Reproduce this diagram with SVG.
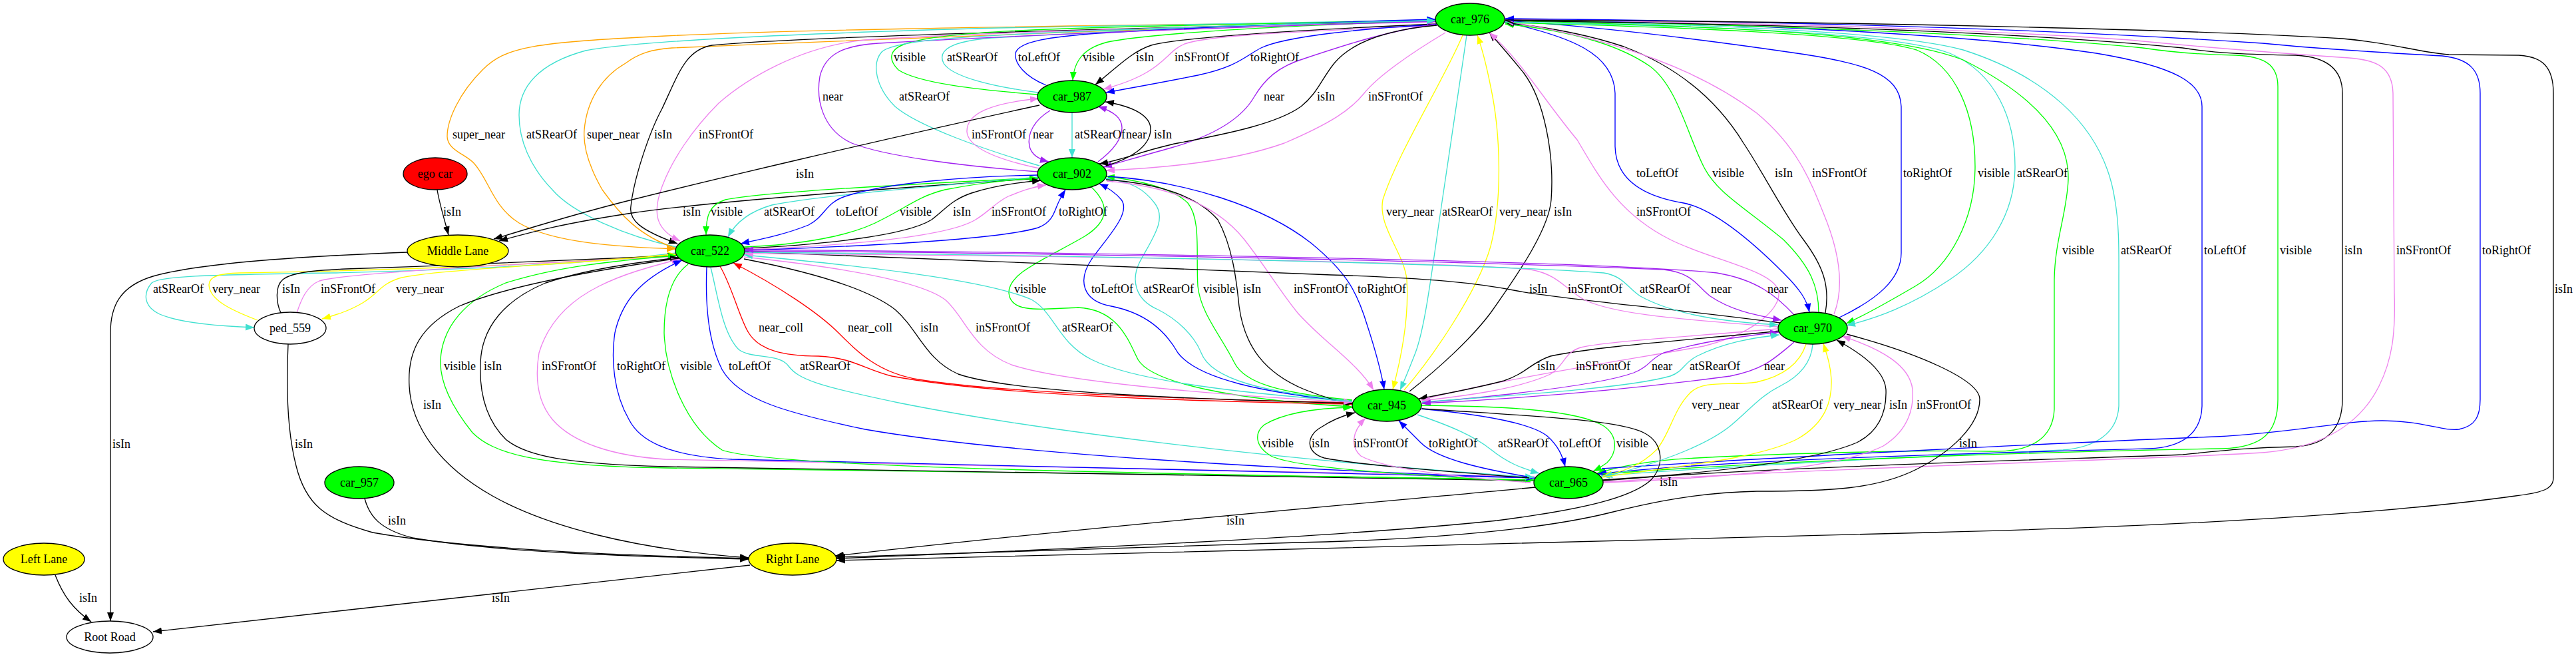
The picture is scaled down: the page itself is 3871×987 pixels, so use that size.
<svg xmlns="http://www.w3.org/2000/svg" width="3871" height="987" viewBox="0 0 3871 987">
<style>
.e{fill:none;stroke-width:1.33}
.k{stroke:#000;marker-end:url(#mk)}
.r{stroke:#f00;marker-end:url(#mr)}
.g{stroke:#0f0;marker-end:url(#mg)}
.b{stroke:#00f;marker-end:url(#mb)}
.t{stroke:#40e0d0;marker-end:url(#mt)}
.v{stroke:#ee82ee;marker-end:url(#mv)}
.p{stroke:#a020f0;marker-end:url(#mp)}
.y{stroke:#ff0;marker-end:url(#my)}
.o{stroke:#ffa500;marker-end:url(#mo)}
text{font-family:"Liberation Serif","Times New Roman",serif;font-size:18px;fill:#000}
.n{stroke:#000;stroke-width:1.33}
.nt{text-anchor:middle}
</style>
<defs>
<marker id="mk" viewBox="0 0 13 10" refX="13" refY="5" markerWidth="13" markerHeight="10" orient="auto" markerUnits="userSpaceOnUse"><path d="M0,0L13,5L0,10z" fill="#000"/></marker>
<marker id="mr" viewBox="0 0 13 10" refX="13" refY="5" markerWidth="13" markerHeight="10" orient="auto" markerUnits="userSpaceOnUse"><path d="M0,0L13,5L0,10z" fill="#f00"/></marker>
<marker id="mg" viewBox="0 0 13 10" refX="13" refY="5" markerWidth="13" markerHeight="10" orient="auto" markerUnits="userSpaceOnUse"><path d="M0,0L13,5L0,10z" fill="#0f0"/></marker>
<marker id="mb" viewBox="0 0 13 10" refX="13" refY="5" markerWidth="13" markerHeight="10" orient="auto" markerUnits="userSpaceOnUse"><path d="M0,0L13,5L0,10z" fill="#00f"/></marker>
<marker id="mt" viewBox="0 0 13 10" refX="13" refY="5" markerWidth="13" markerHeight="10" orient="auto" markerUnits="userSpaceOnUse"><path d="M0,0L13,5L0,10z" fill="#40e0d0"/></marker>
<marker id="mv" viewBox="0 0 13 10" refX="13" refY="5" markerWidth="13" markerHeight="10" orient="auto" markerUnits="userSpaceOnUse"><path d="M0,0L13,5L0,10z" fill="#ee82ee"/></marker>
<marker id="mp" viewBox="0 0 13 10" refX="13" refY="5" markerWidth="13" markerHeight="10" orient="auto" markerUnits="userSpaceOnUse"><path d="M0,0L13,5L0,10z" fill="#a020f0"/></marker>
<marker id="my" viewBox="0 0 13 10" refX="13" refY="5" markerWidth="13" markerHeight="10" orient="auto" markerUnits="userSpaceOnUse"><path d="M0,0L13,5L0,10z" fill="#ff0"/></marker>
<marker id="mo" viewBox="0 0 13 10" refX="13" refY="5" markerWidth="13" markerHeight="10" orient="auto" markerUnits="userSpaceOnUse"><path d="M0,0L13,5L0,10z" fill="#ffa500"/></marker>
</defs>
<rect width="3871" height="987" fill="#fff"/>
<g id="edges">
<path class="e o" d="M2157,31 C1800,38 1300,40 1000,54 C800,64 760,70 725,105 C690,140 672,180 672,205 C672,225 700,232 712,245 C735,270 740,310 780,335 C830,365 930,371 1015,374"/>
<path class="e t" d="M1016,371 C940,355 860,320 830,285 C796,250 780,210 780,173 C780,130 810,95 880,76 C950,62 1200,50 1500,42 C1800,36 2000,33 2157,30"/>
<path class="e o" d="M1016,373 C960,355 930,320 905,285 C885,250 876,220 878,195 C882,150 905,115 940,95 C960,80 980,74 1010,72 C1300,60 1800,40 2157,31"/>
<path class="e k" d="M2157,32 C1700,42 1200,55 1070,68 C1030,75 1020,110 995,163 C975,200 952,270 948,310 C945,330 960,345 1018,366"/>
<path class="e v" d="M2157,33 C1800,40 1450,50 1300,60 C1200,70 1120,120 1080,155 C1040,195 1010,240 995,280 C980,320 985,345 1022,362"/>
<path class="e k" d="M657,285 C660,305 668,330 674,353"/>
<path class="e t" d="M1016,380 C900,395 700,405 500,410 C300,413 240,415 228,425 C215,440 215,460 240,472 C270,485 330,490 382,492"/>
<path class="e y" d="M387,481 C345,465 315,450 314,428 C314,415 330,411 360,410 C500,408 800,400 1016,382"/>
<path class="e k" d="M422,470 C415,455 413,430 425,420 C440,408 480,406 520,404 C700,398 900,390 1016,384"/>
<path class="e v" d="M446,470 C452,452 460,430 480,422 C510,412 700,400 1016,385"/>
<path class="e y" d="M1016,382 C850,398 650,405 600,418 C570,428 570,440 545,455 C525,467 505,473 484,479"/>
<path class="e g" d="M1559,142 C1470,135 1380,125 1350,105 C1335,90 1335,75 1360,66 C1400,52 1500,45 1700,40 C1900,35 2050,32 2157,30"/>
<path class="e t" d="M1560,139 C1490,130 1430,115 1418,95 C1408,75 1430,62 1490,57 C1700,45 1950,35 2157,30"/>
<path class="e b" d="M1572,128 C1540,115 1524,95 1526,80 C1530,62 1580,55 1650,50 C1850,38 2000,33 2157,29"/>
<path class="e g" d="M2157,31 C1950,38 1750,48 1670,62 C1630,70 1614,90 1612,121"/>
<path class="e k" d="M2158,36 C1950,45 1780,55 1730,68 C1700,78 1680,100 1646,127"/>
<path class="e v" d="M2159,38 C1950,48 1820,52 1780,66 C1750,78 1750,110 1658,134"/>
<path class="e b" d="M2159,37 C2050,42 1930,55 1895,72 C1870,85 1860,100 1800,113 C1740,125 1700,132 1662,139"/>
<path class="e p" d="M1560,258 C1450,250 1330,235 1280,215 C1236,195 1226,150 1232,115 C1240,80 1270,68 1320,65 C1500,55 1800,42 2157,32"/>
<path class="e t" d="M1562,249 C1480,225 1380,190 1345,160 C1315,130 1310,95 1325,78 C1345,60 1450,55 1600,48 C1800,40 2000,34 2157,31"/>
<path class="e p" d="M2157,36 C2080,48 2020,68 1960,88 C1920,100 1900,120 1885,145 C1865,180 1820,205 1760,222 C1720,233 1690,242 1658,251"/>
<path class="e k" d="M2159,38 C2080,45 2030,65 2005,95 C1985,120 1980,140 1955,160 C1920,185 1850,200 1770,215 C1720,225 1690,240 1652,246"/>
<path class="e v" d="M2172,49 C2120,80 2070,115 2050,140 C2030,165 2000,185 1930,215 C1860,240 1760,252 1662,256"/>
<path class="e v" d="M1562,253 C1500,240 1455,222 1453,198 C1452,170 1490,155 1561,148"/>
<path class="e p" d="M1578,166 C1555,180 1543,200 1547,220 C1550,232 1560,239 1576,243"/>
<path class="e t" d="M1611,169 L1611,237"/>
<path class="e p" d="M1650,243 C1670,228 1686,210 1686,192 C1686,178 1675,168 1650,160"/>
<path class="e k" d="M1662,249 C1700,238 1728,220 1729,195 C1730,175 1705,160 1661,153"/>
<path class="e k" d="M1562,158 C1300,215 1050,275 950,300 C850,325 790,345 742,359"/>
<path class="e k" d="M1560,268 C1300,285 1050,305 950,320 C850,335 800,348 750,362"/>
<path class="e g" d="M1560,267 C1350,278 1150,288 1090,300 C1065,308 1061,325 1061,353"/>
<path class="e t" d="M1560,266 C1400,280 1220,295 1160,308 C1125,318 1105,335 1094,356"/>
<path class="e b" d="M1559,263 C1450,265 1330,275 1270,295 C1240,305 1240,325 1215,338 C1180,352 1150,358 1113,366"/>
<path class="e g" d="M1118,371 C1200,368 1280,355 1325,330 C1365,310 1380,295 1420,285 C1470,275 1510,270 1560,268"/>
<path class="e k" d="M1118,373 C1230,368 1360,355 1400,330 C1420,315 1430,300 1460,290 C1490,280 1520,275 1564,271"/>
<path class="e v" d="M1118,375 C1250,370 1420,358 1466,330 C1486,318 1495,305 1515,295 C1535,287 1550,281 1572,278"/>
<path class="e b" d="M1118,376 C1300,370 1500,360 1560,342 C1580,335 1584,320 1588,310 C1592,300 1596,293 1601,285"/>
<path class="e g" d="M1640,281 C1665,305 1670,330 1630,355 C1570,390 1515,410 1516,440 C1518,470 1560,465 1620,462 C1680,465 1695,510 1710,540 C1730,575 1850,600 2031,611"/>
<path class="e b" d="M2032,604 C1900,590 1800,570 1770,530 C1750,495 1720,470 1670,460 C1625,452 1620,420 1640,390 C1665,355 1700,320 1685,300 C1675,288 1665,282 1652,276"/>
<path class="e t" d="M2032,602 C1900,590 1820,570 1805,530 C1795,505 1770,480 1740,465 C1705,450 1700,420 1712,395 C1730,360 1755,330 1735,305 C1720,285 1700,272 1660,268"/>
<path class="e g" d="M2032,601 C1920,590 1870,575 1855,545 C1835,505 1804,470 1800,430 C1797,380 1805,330 1785,305 C1765,285 1720,272 1662,265"/>
<path class="e k" d="M1662,270 C1740,275 1800,295 1830,330 C1852,370 1858,420 1862,460 C1870,520 1900,560 1960,585 C1990,597 2010,603 2033,607"/>
<path class="e v" d="M1663,272 C1760,280 1830,310 1870,360 C1905,405 1925,440 1950,470 C1990,515 2040,545 2064,586"/>
<path class="e b" d="M1665,265 C1780,272 1900,310 1970,365 C2025,410 2040,440 2055,490 C2068,530 2075,555 2080,585"/>
<path class="e r" d="M1082,400 C1100,430 1112,480 1125,500 C1140,525 1175,535 1230,535 C1280,537 1300,555 1340,565 C1500,595 1800,603 2032,607"/>
<path class="e r" d="M2032,605 C1800,600 1500,590 1380,570 C1320,560 1290,530 1260,500 C1230,470 1170,430 1102,395"/>
<path class="e k" d="M1118,389 C1200,405 1300,430 1345,465 C1380,495 1390,540 1440,562 C1520,590 1800,600 2032,606"/>
<path class="e v" d="M1118,386 C1250,400 1380,420 1420,450 C1450,475 1460,525 1520,548 C1600,575 1850,595 2032,604"/>
<path class="e t" d="M2032,603 C1850,590 1700,570 1640,540 C1590,515 1585,470 1550,450 C1480,420 1300,400 1118,383"/>
<path class="e b" d="M2261,33 C2360,55 2425,80 2427,140 L2427,220 C2428,270 2470,295 2530,305 C2580,315 2640,370 2680,410 C2705,435 2715,450 2719,469"/>
<path class="e g" d="M2733,470 C2733,430 2720,400 2680,360 C2620,310 2580,290 2560,250 C2535,200 2520,130 2480,100 C2430,65 2350,45 2262,36"/>
<path class="e k" d="M2743,470 C2750,430 2740,400 2710,360 C2680,320 2650,260 2620,215 C2580,150 2520,100 2440,70 C2380,50 2320,40 2262,34"/>
<path class="e v" d="M2756,472 C2772,430 2765,380 2740,320 C2720,270 2700,220 2640,170 C2560,110 2440,60 2262,32"/>
<path class="e b" d="M2764,477 C2820,450 2857,420 2857,380 L2857,160 C2855,110 2800,95 2700,80 C2550,58 2400,40 2262,31"/>
<path class="e g" d="M2262,34 C2500,40 2800,50 2880,75 C2940,100 2968,170 2968,250 C2968,330 2930,400 2878,430 C2830,458 2800,475 2774,486"/>
<path class="e t" d="M2262,33 C2600,40 2850,50 2930,80 C3000,110 3028,180 3028,250 C3028,320 2990,380 2930,420 C2870,460 2820,478 2775,489"/>
<path class="e y" d="M2198,53 C2170,120 2100,230 2078,300 C2070,340 2110,380 2114,420 C2118,480 2105,540 2093,585"/>
<path class="e t" d="M2204,53 C2190,150 2175,250 2163,330 C2150,420 2140,500 2125,535 C2118,553 2112,568 2104,586"/>
<path class="e y" d="M2110,586 C2150,540 2220,440 2240,370 C2258,300 2255,200 2240,130 C2234,100 2228,75 2220,53"/>
<path class="e k" d="M2118,588 C2160,555 2210,510 2240,470 C2290,400 2328,340 2331,300 C2336,230 2320,150 2290,110 C2270,85 2255,68 2238,49"/>
<path class="e v" d="M2136,601 C2250,570 2450,540 2560,520 C2640,500 2680,460 2672,435 C2660,405 2570,390 2510,360 C2430,320 2400,260 2370,210 C2320,150 2285,90 2238,49"/>
<path class="e k" d="M2675,485 C2500,462 2350,450 2280,437 C2220,425 2150,418 2000,413 C1700,400 1400,388 1119,378"/>
<path class="e v" d="M2671,491 C2500,478 2420,470 2380,450 C2350,432 2340,412 2300,405 C2200,395 1700,385 1119,381"/>
<path class="e t" d="M1119,379 C1600,383 2200,395 2410,410 C2440,415 2445,432 2465,445 C2520,475 2600,484 2672,488"/>
<path class="e p" d="M1118,377 C1600,380 2200,392 2500,405 C2545,410 2550,430 2570,445 C2600,465 2630,472 2677,481"/>
<path class="e p" d="M2696,473 C2670,445 2640,420 2580,410 C2400,392 1700,380 1119,375"/>
<path class="e g" d="M2262,31 C2600,40 2850,50 2950,90 C3050,140 3110,200 3108,270 C3106,320 3088,360 3087,420 L3087,615 C3085,660 3050,680 2990,678 C2900,676 2700,680 2550,688 C2470,692 2430,702 2400,711"/>
<path class="e t" d="M2262,30 C2600,38 2850,48 2950,75 C3060,110 3160,180 3178,300 C3185,340 3184,380 3184,420 L3184,610 C3182,650 3150,672 3100,676 C2900,685 2600,700 2406,715"/>
<path class="e b" d="M2262,29 C2600,35 2950,50 3150,80 C3270,100 3309,125 3309,160 L3309,610 C3308,650 3280,672 3230,674 C3000,680 2600,690 2401,712"/>
<path class="e g" d="M2408,712 C2700,690 3100,678 3340,674 C3400,672 3423,650 3423,600 L3423,130 C3423,95 3400,85 3360,83 C3300,82 3260,78 3220,72 C3000,50 2600,36 2262,30"/>
<path class="e k" d="M2409,721 C2700,700 3100,690 3280,683 C3330,678 3380,672 3450,671 C3500,668 3520,640 3520,600 L3520,140 C3520,100 3490,85 3450,83 C3380,82 3330,80 3280,72 C3000,45 2600,35 2262,31"/>
<path class="e v" d="M2409,724 C2800,700 3200,692 3400,680 C3500,672 3550,630 3575,580 C3595,540 3600,500 3598,440 L3596,140 C3595,100 3570,90 3530,87 C3400,78 3300,70 3200,60 C2900,40 2600,34 2262,29"/>
<path class="e b" d="M2407,704 C2700,685 3100,665 3330,656 C3450,650 3520,632 3580,632 C3640,632 3670,648 3695,645 C3720,640 3727,625 3727,600 L3727,140 C3727,105 3710,88 3670,84 C3600,80 3500,75 3400,65 C3100,45 2700,32 2262,28"/>
<path class="e k" d="M2262,30 C2800,32 3300,45 3520,58 C3600,65 3630,78 3680,82 L3785,83 C3820,85 3837,100 3837,140 L3837,718 C3837,735 3820,740 3780,745 C3600,770 3300,790 2900,800 C2400,815 1800,828 1257,842"/>
<path class="e k" d="M612,379 C450,385 300,395 230,415 C180,430 166,460 166,500 L166,933"/>
<path class="e k" d="M433,517 C430,580 432,650 445,700 C460,760 490,780 560,800 C700,825 950,835 1125,839"/>
<path class="e g" d="M2305,721 C1800,712 1200,705 1000,703 C800,700 740,680 710,650 C686,620 660,580 662,540 C665,490 700,450 760,425 C840,400 920,392 1017,384"/>
<path class="e k" d="M2305,722 C1800,714 1200,706 1000,701 C850,697 790,685 760,660 C730,630 720,590 722,545 C724,490 760,450 820,425 C880,405 950,395 1020,387"/>
<path class="e v" d="M2306,716 C1800,708 1300,698 1000,690 C920,685 860,665 830,630 C805,600 805,560 810,530 C825,480 860,450 900,430 C940,410 980,400 1022,389"/>
<path class="e b" d="M2306,718 C1800,707 1300,698 1100,690 C1000,685 960,660 945,630 C922,590 918,540 924,500 C934,455 960,420 1025,391"/>
<path class="e k" d="M1020,388 C900,405 760,430 690,460 C630,490 612,530 615,580 C618,640 660,700 740,745 C820,790 950,825 1125,838"/>
<path class="e k" d="M548,749 C555,775 570,795 620,808 C750,830 950,836 1125,840"/>
<path class="e k" d="M83,864 C95,895 110,915 137,934"/>
<path class="e k" d="M1127,849 L230,949"/>
<path class="e g" d="M1034,397 C1010,415 998,450 998,500 C1000,560 1030,640 1085,676 C1150,700 1600,710 2305,721"/>
<path class="e b" d="M1062,401 C1060,450 1062,510 1085,555 C1110,600 1180,620 1300,645 C1500,680 1900,705 2306,718"/>
<path class="e t" d="M1068,402 C1078,440 1085,500 1110,525 C1130,540 1170,530 1185,550 C1200,570 1230,580 1350,605 C1550,645 1900,690 2305,717"/>
<path class="e g" d="M2300,724 C2150,715 1950,705 1910,685 C1885,670 1885,650 1900,638 C1930,620 1980,613 2032,612"/>
<path class="e k" d="M2298,718 C2200,710 2050,700 1990,688 C1962,680 1962,655 1985,642 C2000,632 2015,625 2036,620"/>
<path class="e k" d="M2307,732 C2100,752 1700,785 1255,835"/>
<path class="e k" d="M2675,497 C2550,510 2400,520 2330,535 C2300,545 2295,560 2260,572 C2210,585 2170,592 2132,599"/>
<path class="e v" d="M2670,494 C2550,505 2420,512 2375,522 C2350,530 2352,548 2330,562 C2280,585 2200,595 2136,602"/>
<path class="e p" d="M2137,605 C2250,595 2400,580 2455,560 C2480,550 2478,540 2500,530 C2560,512 2620,505 2673,499"/>
<path class="e t" d="M2137,604 C2300,592 2450,582 2510,565 C2530,558 2530,545 2550,535 C2590,515 2630,508 2674,503"/>
<path class="e p" d="M2696,514 C2665,540 2650,555 2600,565 C2450,585 2300,598 2137,606"/>
<path class="e y" d="M2714,517 C2705,545 2680,565 2640,574 C2600,580 2560,570 2540,590 C2515,615 2510,650 2490,675 C2465,700 2440,708 2409,715"/>
<path class="e t" d="M2724,517 C2722,545 2705,565 2675,580 C2645,595 2630,615 2600,640 C2560,672 2480,700 2410,716"/>
<path class="e y" d="M2408,717 C2520,700 2640,690 2700,660 C2745,635 2753,600 2752,570 C2751,550 2746,535 2740,516"/>
<path class="e k" d="M2408,722 C2550,712 2720,695 2790,665 C2830,645 2835,610 2834,585 C2832,560 2805,535 2760,511"/>
<path class="e v" d="M2408,725 C2580,718 2760,705 2830,670 C2870,645 2876,610 2874,585 C2870,550 2830,525 2768,505"/>
<path class="e v" d="M2300,725 C2200,718 2080,705 2045,685 C2030,672 2030,650 2052,628"/>
<path class="e b" d="M2295,716 C2230,705 2160,690 2135,665 C2120,650 2110,640 2102,632"/>
<path class="e t" d="M2130,623 C2180,640 2215,655 2240,675 C2265,695 2285,703 2313,711"/>
<path class="e b" d="M2134,614 C2220,622 2300,635 2325,655 C2342,670 2348,685 2352,701"/>
<path class="e g" d="M2135,609 C2250,610 2370,615 2410,640 C2432,655 2430,680 2415,695 C2408,700 2400,705 2394,708"/>
<path class="e k" d="M2775,502 C2880,530 2975,570 2975,600 C2975,640 2930,680 2880,705 C2820,735 2750,738 2640,738 C2550,740 2480,755 2420,770 C2300,800 2100,812 1950,815 C1700,822 1450,830 1257,837"/>
<path class="e k" d="M2137,614 C2300,625 2430,630 2470,650 C2500,665 2502,700 2480,722 C2450,748 2380,765 2250,782 C2000,808 1600,825 1257,839"/>
</g>
<g id="edge-labels">
<text x="680" y="208">super_near</text>
<text x="791" y="208">atSRearOf</text>
<text x="882" y="208">super_near</text>
<text x="983" y="208">isIn</text>
<text x="666" y="324">isIn</text>
<text x="230" y="440">atSRearOf</text>
<text x="319" y="440">very_near</text>
<text x="424" y="440">isIn</text>
<text x="482" y="440">inSFrontOf</text>
<text x="595" y="440">very_near</text>
<text x="1343" y="92">visible</text>
<text x="1423" y="92">atSRearOf</text>
<text x="1530" y="92">toLeftOf</text>
<text x="1627" y="92">visible</text>
<text x="1707" y="92">isIn</text>
<text x="1765" y="92">inSFrontOf</text>
<text x="1879" y="92">toRightOf</text>
<text x="1236" y="151">near</text>
<text x="1351" y="151">atSRearOf</text>
<text x="1899" y="151">near</text>
<text x="1979" y="151">isIn</text>
<text x="1050" y="208">inSFrontOf</text>
<text x="1460" y="208">inSFrontOf</text>
<text x="1552" y="208">near</text>
<text x="1615" y="208">atSRearOf</text>
<text x="1692" y="208">near</text>
<text x="1734" y="208">isIn</text>
<text x="1196" y="267">isIn</text>
<text x="1026" y="324">isIn</text>
<text x="1068" y="324">visible</text>
<text x="1148" y="324">atSRearOf</text>
<text x="1256" y="324">toLeftOf</text>
<text x="1352" y="324">visible</text>
<text x="1432" y="324">isIn</text>
<text x="1490" y="324">inSFrontOf</text>
<text x="1591" y="324">toRightOf</text>
<text x="1524" y="440">visible</text>
<text x="1640" y="440">toLeftOf</text>
<text x="1718" y="440">atSRearOf</text>
<text x="1808" y="440">visible</text>
<text x="1868" y="440">isIn</text>
<text x="1944" y="440">inSFrontOf</text>
<text x="1140" y="498">near_coll</text>
<text x="1274" y="498">near_coll</text>
<text x="1383" y="498">isIn</text>
<text x="1466" y="498">inSFrontOf</text>
<text x="1596" y="498">atSRearOf</text>
<text x="2056" y="151">inSFrontOf</text>
<text x="2459" y="266">toLeftOf</text>
<text x="2573" y="266">visible</text>
<text x="2667" y="266">isIn</text>
<text x="2723" y="266">inSFrontOf</text>
<text x="2860" y="266">toRightOf</text>
<text x="2972" y="266">visible</text>
<text x="3031" y="266">atSRearOf</text>
<text x="2083" y="324">very_near</text>
<text x="2167" y="324">atSRearOf</text>
<text x="2253" y="324">very_near</text>
<text x="2335" y="324">isIn</text>
<text x="2459" y="324">inSFrontOf</text>
<text x="2040" y="440">toRightOf</text>
<text x="2298" y="440">isIn</text>
<text x="2356" y="440">inSFrontOf</text>
<text x="2464" y="440">atSRearOf</text>
<text x="2571" y="440">near</text>
<text x="2656" y="440">near</text>
<text x="3099" y="382">visible</text>
<text x="3187" y="382">atSRearOf</text>
<text x="3312" y="382">toLeftOf</text>
<text x="3426" y="382">visible</text>
<text x="3523" y="382">isIn</text>
<text x="3601" y="382">inSFrontOf</text>
<text x="3730" y="382">toRightOf</text>
<text x="3839" y="440">isIn</text>
<text x="169" y="673">isIn</text>
<text x="443" y="673">isIn</text>
<text x="667" y="556">visible</text>
<text x="727" y="556">isIn</text>
<text x="814" y="556">inSFrontOf</text>
<text x="927" y="556">toRightOf</text>
<text x="636" y="614">isIn</text>
<text x="583" y="788">isIn</text>
<text x="119" y="904">isIn</text>
<text x="739" y="904">isIn</text>
<text x="1022" y="556">visible</text>
<text x="1095" y="556">toLeftOf</text>
<text x="1202" y="556">atSRearOf</text>
<text x="1896" y="672">visible</text>
<text x="1971" y="672">isIn</text>
<text x="1843" y="788">isIn</text>
<text x="2310" y="556">isIn</text>
<text x="2368" y="556">inSFrontOf</text>
<text x="2482" y="556">near</text>
<text x="2539" y="556">atSRearOf</text>
<text x="2651" y="556">near</text>
<text x="2542" y="614">very_near</text>
<text x="2663" y="614">atSRearOf</text>
<text x="2755" y="614">very_near</text>
<text x="2839" y="614">isIn</text>
<text x="2880" y="614">inSFrontOf</text>
<text x="2034" y="672">inSFrontOf</text>
<text x="2147" y="672">toRightOf</text>
<text x="2251" y="672">atSRearOf</text>
<text x="2343" y="672">toLeftOf</text>
<text x="2429" y="672">visible</text>
<text x="2944" y="672">isIn</text>
<text x="2494" y="730">isIn</text>
</g>
<g id="node-car_976"><ellipse class="n" cx="2209" cy="29" rx="52" ry="24" fill="#0f0"/><text class="nt" x="2209" y="35">car_976</text></g>
<g id="node-car_987"><ellipse class="n" cx="1611" cy="145" rx="52" ry="24" fill="#0f0"/><text class="nt" x="1611" y="151">car_987</text></g>
<g id="node-car_902"><ellipse class="n" cx="1611" cy="261" rx="52" ry="24" fill="#0f0"/><text class="nt" x="1611" y="267">car_902</text></g>
<g id="node-ego_car"><ellipse class="n" cx="654" cy="261" rx="48" ry="24" fill="#f00"/><text class="nt" x="654" y="267">ego car</text></g>
<g id="node-car_522"><ellipse class="n" cx="1067" cy="377" rx="52" ry="24" fill="#0f0"/><text class="nt" x="1067" y="383">car_522</text></g>
<g id="node-middle_lane"><ellipse class="n" cx="688" cy="377" rx="76" ry="24" fill="#ff0"/><text class="nt" x="688" y="383">Middle Lane</text></g>
<g id="node-ped_559"><ellipse class="n" cx="436" cy="493" rx="54" ry="24" fill="#fff"/><text class="nt" x="436" y="499">ped_559</text></g>
<g id="node-car_970"><ellipse class="n" cx="2724" cy="493" rx="52" ry="24" fill="#0f0"/><text class="nt" x="2724" y="499">car_970</text></g>
<g id="node-car_945"><ellipse class="n" cx="2084" cy="609" rx="52" ry="24" fill="#0f0"/><text class="nt" x="2084" y="615">car_945</text></g>
<g id="node-car_965"><ellipse class="n" cx="2357" cy="725" rx="52" ry="24" fill="#0f0"/><text class="nt" x="2357" y="731">car_965</text></g>
<g id="node-car_957"><ellipse class="n" cx="540" cy="725" rx="52" ry="24" fill="#0f0"/><text class="nt" x="540" y="731">car_957</text></g>
<g id="node-left_lane"><ellipse class="n" cx="66" cy="840" rx="61" ry="24" fill="#ff0"/><text class="nt" x="66" y="846">Left Lane</text></g>
<g id="node-right_lane"><ellipse class="n" cx="1191" cy="840" rx="66" ry="24" fill="#ff0"/><text class="nt" x="1191" y="846">Right Lane</text></g>
<g id="node-root_road"><ellipse class="n" cx="165" cy="957" rx="65" ry="24" fill="#fff"/><text class="nt" x="165" y="963">Root Road</text></g>
</svg>
